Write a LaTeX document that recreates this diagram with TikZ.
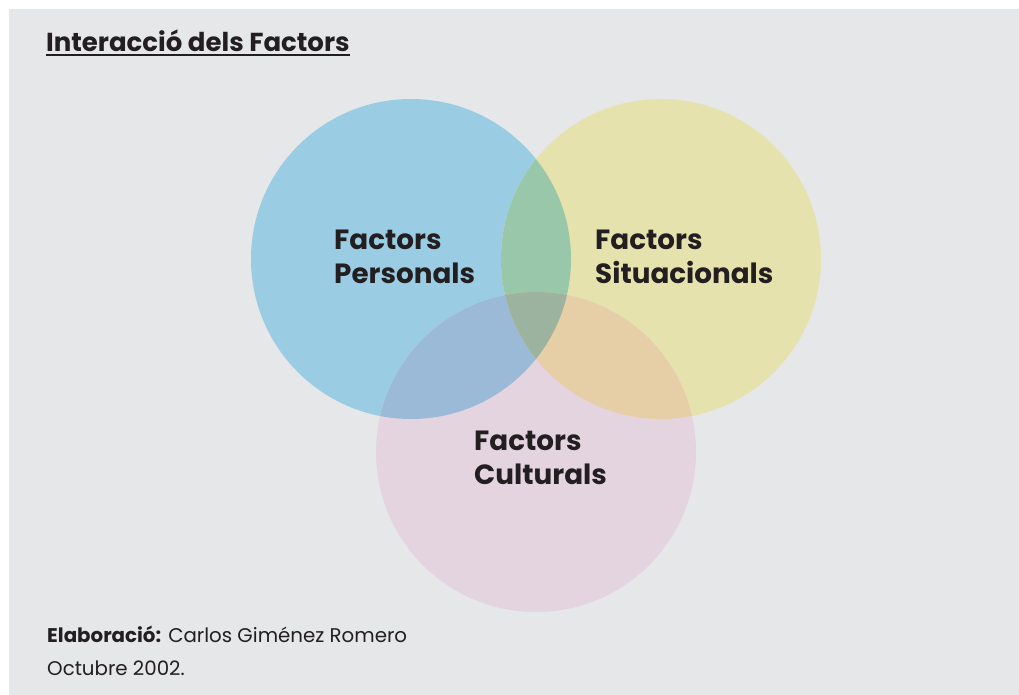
\documentclass[tikz,border=0pt]{standalone}
\usepackage{fontspec}
\setmainfont{Poppins}
\usetikzlibrary{calc}
\definecolor{bggray}{HTML}{E6E7E9}
\definecolor{cblue}{HTML}{9ACCE4}
\definecolor{cyellow}{HTML}{E6E2AE}
\definecolor{cpink}{HTML}{E4D4DF}
\definecolor{cby}{HTML}{98C8A9}
\definecolor{cbp}{HTML}{9BBAD8}
\definecolor{cyp}{HTML}{E6CEA6}
\definecolor{cbyp}{HTML}{9BB39F}
\definecolor{ink}{HTML}{231F20}
\begin{document}
\begin{tikzpicture}[x=1pt,y=-1pt,
  lbl/.style={anchor=base west,inner sep=0pt,text=ink,font=\fontsize{27.8}{32}\selectfont\bfseries},
  foot/.style={anchor=base west,inner sep=0pt,text=ink,font=\fontsize{19.8}{24}\selectfont}]
\useasboundingbox (0,0) rectangle (1019,695);
\fill[white] (0,0) rectangle (1019,695);
\fill[bggray] (9,9) rectangle (1019,695);
% circles
\def\cB{(411,259) circle[radius=160]}
\def\cY{(661,259) circle[radius=160]}
\def\cP{(536,452) circle[radius=160]}
\fill[cblue] \cB;
\fill[cyellow] \cY;
\fill[cpink] \cP;
\begin{scope}\clip \cB; \fill[cby] \cY; \end{scope}
\begin{scope}\clip \cB; \fill[cbp] \cP; \end{scope}
\begin{scope}\clip \cY; \fill[cyp] \cP; \end{scope}
\begin{scope}\clip \cB; \clip \cY; \fill[cbyp] \cP; \end{scope}
% title
\node[anchor=base west,inner sep=0pt,text=ink,font=\fontsize{26}{30}\selectfont\bfseries] (title) at (46,52) {Interacció dels Factors};
\draw[ink,line width=1.6pt] ($(title.base west)+(0,3)$) -- ($(title.base east)+(0,3)$);
% labels
\node[lbl] (p1) at (334,249) {Factors};
\node[lbl] (p2) at (334,283) {Personals};
\node[lbl] (s1) at (595,249) {Factors};
\node[lbl] (s2) at (595,283) {Situacionals};
\node[lbl] (c1) at (474,450) {Factors};
\node[lbl] (c2) at (474,484) {Culturals};
% footer
\node[foot] (f1) at (47,642) {\textbf{Elaboració:} Carlos Giménez Romero};
\node[foot] (f2) at (47,675) {Octubre 2002.};
\end{tikzpicture}
\end{document}
